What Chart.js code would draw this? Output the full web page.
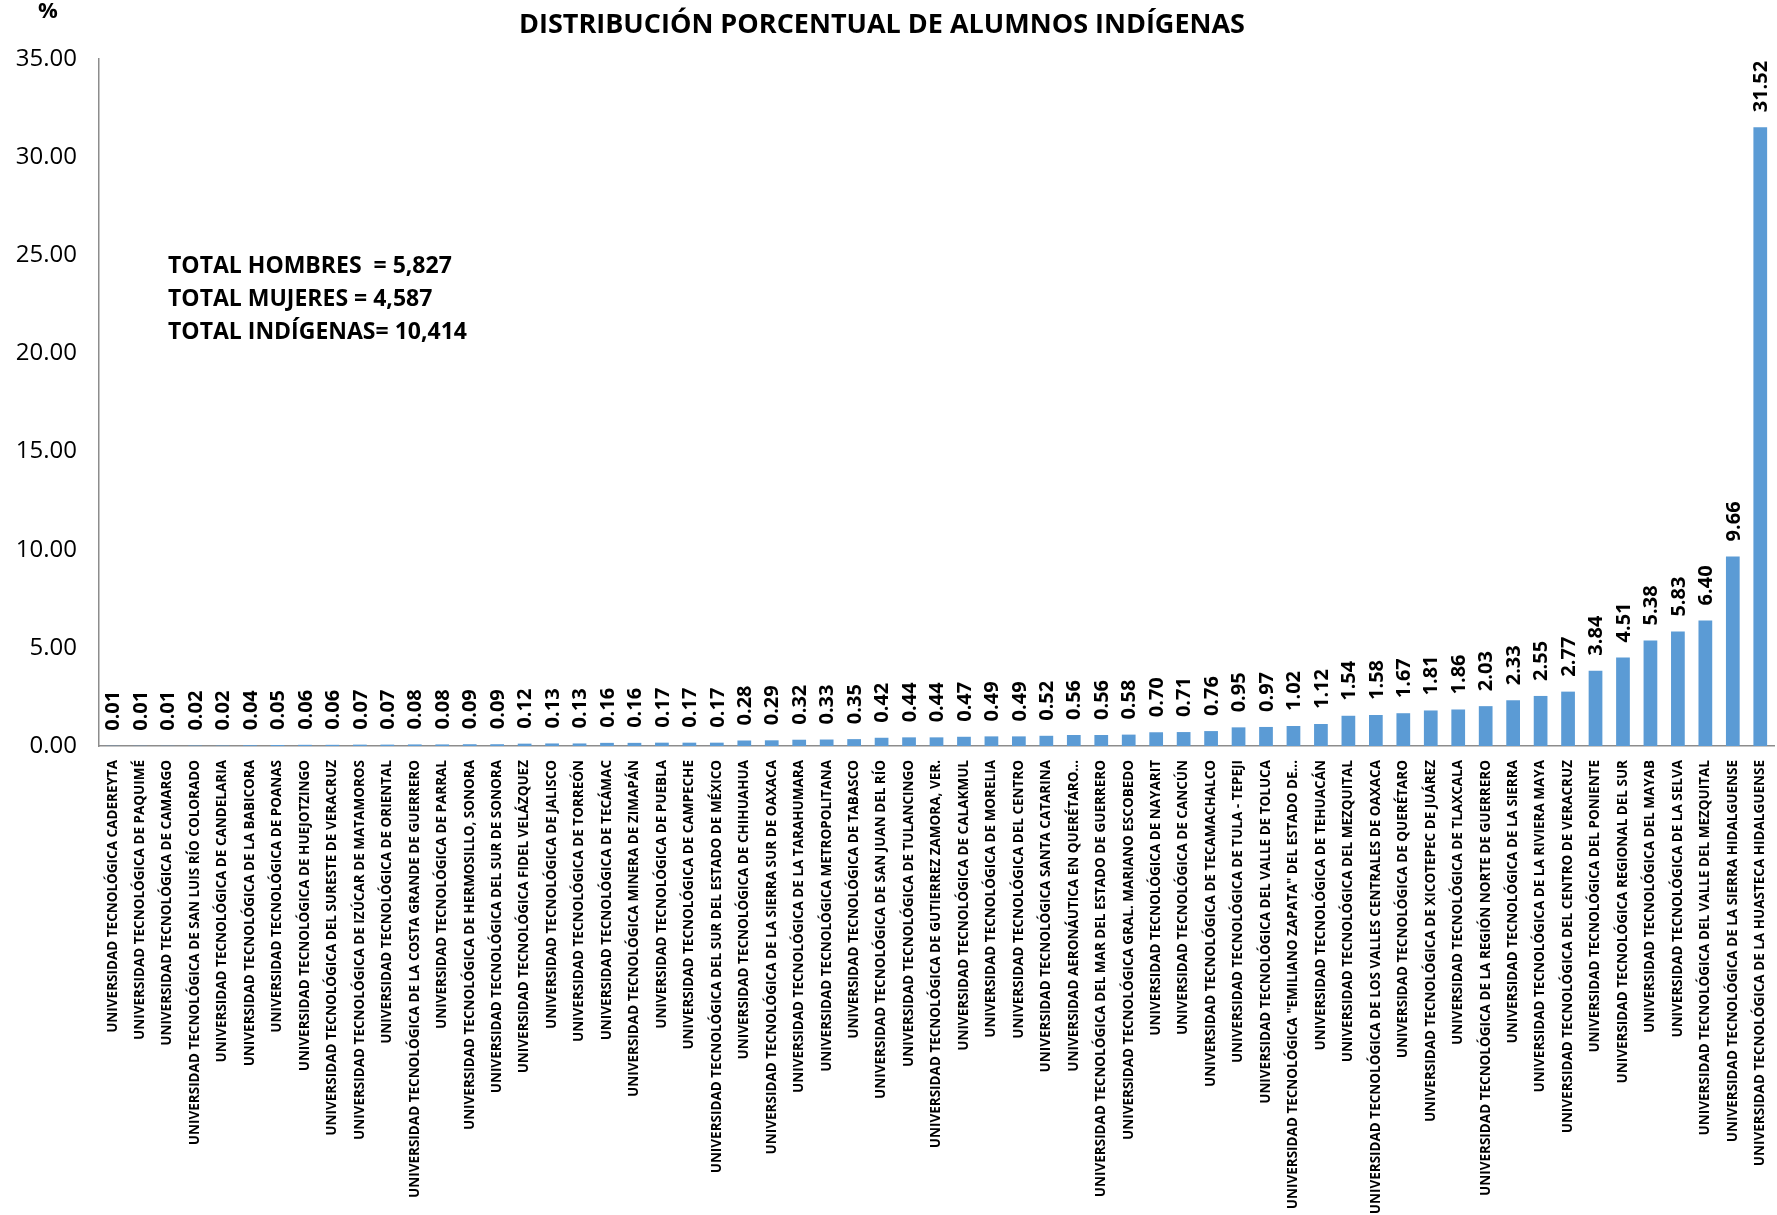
<!DOCTYPE html>
<html lang="es">
<head>
  <meta charset="UTF-8">
  <title>Distribución porcentual de alumnos indígenas</title>
  <script src="https://cdn.jsdelivr.net/npm/chart.js"></script>
  <style>
    body { margin: 0; background: #fff; }
  </style>
</head>
<body>
<canvas id="myChart" width="1777" height="1215"></canvas>
<script>
  const universidades = [
    'UNIVERSIDAD TECNOLÓGICA CADEREYTA',
    'UNIVERSIDAD TECNOLÓGICA DE PAQUIMÉ',
    'UNIVERSIDAD TECNOLÓGICA DE CAMARGO',
    'UNIVERSIDAD TECNOLÓGICA DE SAN LUIS RÍO COLORADO',
    'UNIVERSIDAD TECNOLÓGICA DE CANDELARIA',
    'UNIVERSIDAD TECNOLÓGICA DE LA BABICORA',
    'UNIVERSIDAD TECNOLÓGICA DE POANAS',
    'UNIVERSIDAD TECNOLÓGICA DE HUEJOTZINGO',
    'UNIVERSIDAD TECNOLÓGICA DEL SURESTE DE VERACRUZ',
    'UNIVERSIDAD TECNOLÓGICA DE IZÚCAR DE MATAMOROS',
    'UNIVERSIDAD TECNOLÓGICA DE ORIENTAL',
    'UNIVERSIDAD TECNOLÓGICA DE LA COSTA GRANDE DE GUERRERO',
    'UNIVERSIDAD TECNOLÓGICA DE PARRAL',
    'UNIVERSIDAD TECNOLÓGICA DE HERMOSILLO, SONORA',
    'UNIVERSIDAD TECNOLÓGICA DEL SUR DE SONORA',
    'UNIVERSIDAD TECNOLÓGICA FIDEL VELÁZQUEZ',
    'UNIVERSIDAD TECNOLÓGICA DE JALISCO',
    'UNIVERSIDAD TECNOLÓGICA DE TORREÓN',
    'UNIVERSIDAD TECNOLÓGICA DE TECÁMAC',
    'UNIVERSIDAD TECNOLÓGICA MINERA DE ZIMAPÁN',
    'UNIVERSIDAD TECNOLÓGICA DE PUEBLA',
    'UNIVERSIDAD TECNOLÓGICA DE CAMPECHE',
    'UNIVERSIDAD TECNOLÓGICA DEL SUR DEL ESTADO DE MÉXICO',
    'UNIVERSIDAD TECNOLÓGICA DE CHIHUAHUA',
    'UNIVERSIDAD TECNOLÓGICA DE LA SIERRA SUR DE OAXACA',
    'UNIVERSIDAD TECNOLÓGICA DE LA TARAHUMARA',
    'UNIVERSIDAD TECNOLÓGICA METROPOLITANA',
    'UNIVERSIDAD TECNOLÓGICA DE TABASCO',
    'UNIVERSIDAD TECNOLÓGICA DE SAN JUAN DEL RÍO',
    'UNIVERSIDAD TECNOLÓGICA DE TULANCINGO',
    'UNIVERSIDAD TECNOLÓGICA DE GUTIERREZ ZAMORA, VER.',
    'UNIVERSIDAD TECNOLÓGICA DE CALAKMUL',
    'UNIVERSIDAD TECNOLÓGICA DE MORELIA',
    'UNIVERSIDAD TECNOLÓGICA DEL CENTRO',
    'UNIVERSIDAD TECNOLÓGICA SANTA CATARINA',
    'UNIVERSIDAD AERONÁUTICA EN QUERÉTARO...',
    'UNIVERSIDAD TECNOLÓGICA DEL MAR DEL ESTADO DE GUERRERO',
    'UNIVERSIDAD TECNOLÓGICA GRAL. MARIANO ESCOBEDO',
    'UNIVERSIDAD TECNOLÓGICA DE NAYARIT',
    'UNIVERSIDAD TECNOLÓGICA DE CANCÚN',
    'UNIVERSIDAD TECNOLÓGICA DE TECAMACHALCO',
    'UNIVERSIDAD TECNOLÓGICA DE TULA - TEPEJI',
    'UNIVERSIDAD TECNOLÓGICA DEL VALLE DE TOLUCA',
    'UNIVERSIDAD TECNOLÓGICA "EMILIANO ZAPATA" DEL ESTADO DE...',
    'UNIVERSIDAD TECNOLÓGICA DE TEHUACÁN',
    'UNIVERSIDAD TECNOLÓGICA DEL MEZQUITAL',
    'UNIVERSIDAD TECNOLÓGICA DE LOS VALLES CENTRALES DE OAXACA',
    'UNIVERSIDAD TECNOLÓGICA DE QUERÉTARO',
    'UNIVERSIDAD TECNOLÓGICA DE XICOTEPEC DE JUÁREZ',
    'UNIVERSIDAD TECNOLÓGICA DE TLAXCALA',
    'UNIVERSIDAD TECNOLÓGICA DE LA REGIÓN NORTE DE GUERRERO',
    'UNIVERSIDAD TECNOLÓGICA DE LA SIERRA',
    'UNIVERSIDAD TECNOLÓGICA DE LA RIVIERA MAYA',
    'UNIVERSIDAD TECNOLÓGICA DEL CENTRO DE VERACRUZ',
    'UNIVERSIDAD TECNOLÓGICA DEL PONIENTE',
    'UNIVERSIDAD TECNOLÓGICA REGIONAL DEL SUR',
    'UNIVERSIDAD TECNOLÓGICA DEL MAYAB',
    'UNIVERSIDAD TECNOLÓGICA DE LA SELVA',
    'UNIVERSIDAD TECNOLÓGICA DEL VALLE DEL MEZQUITAL',
    'UNIVERSIDAD TECNOLÓGICA DE LA SIERRA HIDALGUENSE',
    'UNIVERSIDAD TECNOLÓGICA DE LA HUASTECA HIDALGUENSE'
  ];

  const porcentajes = [
    0.01, 0.01, 0.01, 0.02, 0.02, 0.04, 0.05, 0.06, 0.06, 0.07,
    0.07, 0.08, 0.08, 0.09, 0.09, 0.12, 0.13, 0.13, 0.16, 0.16,
    0.17, 0.17, 0.17, 0.28, 0.29, 0.32, 0.33, 0.35, 0.42, 0.44,
    0.44, 0.47, 0.49, 0.49, 0.52, 0.56, 0.56, 0.58, 0.70, 0.71,
    0.76, 0.95, 0.97, 1.02, 1.12, 1.54, 1.58, 1.67, 1.81, 1.86,
    2.03, 2.33, 2.55, 2.77, 3.84, 4.51, 5.38, 5.83, 6.40, 9.66,
    31.52
  ];

  const titulo = 'DISTRIBUCIÓN PORCENTUAL DE ALUMNOS INDÍGENAS';
  const totales = [
    'TOTAL HOMBRES  = 5,827',
    'TOTAL MUJERES = 4,587',
    'TOTAL INDÍGENAS= 10,414'
  ];

  const FONT = "'Open Sans', sans-serif";

  // etiquetas de valor giradas sobre cada barra + textos sueltos
  const textos = {
    id: 'textos',
    afterDatasetsDraw(chart) {
      const ctx = chart.ctx;
      const meta = chart.getDatasetMeta(0);
      ctx.save();
      ctx.fillStyle = '#000';
      ctx.font = 'bold 20px ' + FONT;
      ctx.textAlign = 'left';
      ctx.textBaseline = 'middle';
      meta.data.forEach((bar, i) => {
        ctx.save();
        ctx.translate(bar.x, bar.y - 15);
        ctx.rotate(-Math.PI / 2);
        ctx.fillText(porcentajes[i].toFixed(2), 0, 1);
        ctx.restore();
      });

      ctx.textAlign = 'center';
      ctx.font = 'bold 27px ' + FONT;
      ctx.fillText(titulo, 882, 25);
      ctx.font = 'bold 22px ' + FONT;
      ctx.fillText('%', 48, 12);

      ctx.textAlign = 'left';
      ctx.font = 'bold 23px ' + FONT;
      totales.forEach((t, i) => ctx.fillText(t, 168, 266 + i * 33));
      ctx.restore();
    }
  };

  const ctx = document.getElementById('myChart').getContext('2d');
  new Chart(ctx, {
    type: 'bar',
    data: {
      labels: universidades,
      datasets: [{
        data: porcentajes,
        backgroundColor: '#5B9BD5',
        categoryPercentage: 1,
        barPercentage: 0.5
      }]
    },
    options: {
      responsive: false,
      animation: false,
      devicePixelRatio: 1,
      layout: { padding: { top: 59, right: 3, left: 0, bottom: 0 } },
      plugins: {
        legend: { display: false },
        title: { display: false },
        tooltip: { enabled: false }
      },
      scales: {
        x: {
          grid: { display: false, drawTicks: false },
          border: { display: true, color: '#8c8c8c', width: 1.5 },
          ticks: {
            autoSkip: false,
            maxRotation: 90,
            minRotation: 90,
            padding: 14,
            color: '#000',
            font: { family: FONT, size: 13.5, weight: 'bold' }
          },
          afterFit(scale) {
            scale.height = 469;
            scale.paddingLeft = 0;
            scale.paddingRight = 0;
          }
        },
        y: {
          min: 0,
          max: 35,
          grid: { display: false, drawTicks: false },
          border: { display: true, color: '#8c8c8c', width: 1.5 },
          ticks: {
            stepSize: 5,
            padding: 22,
            color: '#000',
            font: { family: FONT, size: 24 },
            callback: v => v.toFixed(2)
          },
          afterFit(scale) {
            scale.width = 99;
            scale.paddingTop = 0;
            scale.paddingBottom = 0;
          }
        }
      }
    },
    plugins: [textos]
  });
</script>
</body>
</html>
